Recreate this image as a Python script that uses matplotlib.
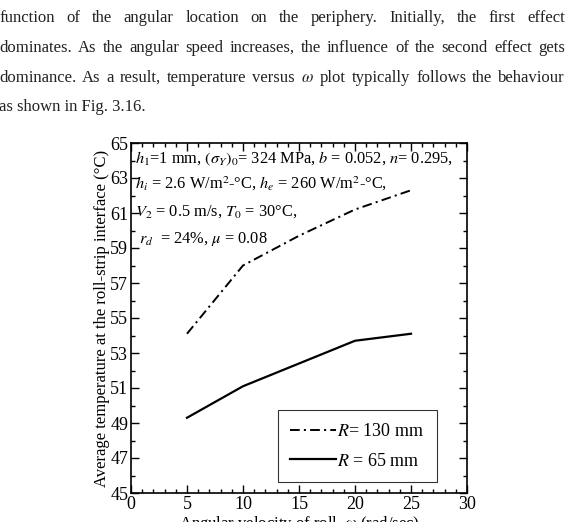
import numpy as np
import matplotlib
matplotlib.use("Agg")
import matplotlib.pyplot as plt

# data (Fig. 3.16)
omega = [5, 10, 15, 20, 25]
temp_r130 = [54.1, 58.0, 59.7, 61.2, 62.3]
temp_r65 = [49.3, 51.1, 52.4, 53.7, 54.1]
labels = ["$R$= 130 mm", "$R$ = 65 mm"]

x_ticks = [0, 5, 10, 15, 20, 25, 30]
y_ticks = [45, 47, 49, 51, 53, 55, 57, 59, 61, 63, 65]

paragraph = [
    "function of the angular location on the periphery. Initially, the first effect",
    "dominates. As the angular speed increases, the influence of the second effect gets",
    "dominance. As a result, temperature versus $\\omega$ plot typically follows the behaviour",
    "as shown in Fig. 3.16.",
]

params = [
    "$h_1$=1 mm, $(\\sigma_Y)_0$= 324 MPa, $b$ = 0.052, $n$= 0.295,",
    "$h_i$ = 2.6 W/m$^2$-\u00b0C, $h_e$ = 260 W/m$^2$-\u00b0C,",
    "$V_2$ = 0.5 m/s, $T_0$ = 30\u00b0C,",
    " $r_d$  = 24%, $\\mu$ = 0.08",
]

plt.rcParams["font.family"] = "Liberation Serif"
plt.rcParams["mathtext.fontset"] = "stix"
plt.rcParams["lines.scale_dashes"] = False

W, H = 576, 522
fig = plt.figure(figsize=(W / 100, H / 100), dpi=100)

# justified paragraph text above the chart
renderer = fig.canvas.get_renderer()
line_y = [22, 52, 82, 111]
for k, line in enumerate(paragraph):
    if k == len(paragraph) - 1:
        fig.text(-1 / W, 1 - line_y[k] / H, line, fontsize=12, color="#222222",
                 va="baseline", ha="left")
        continue
    words = line.split(" ")
    texts = [fig.text(0, 1 - line_y[k] / H, w, fontsize=12, color="#222222",
                      va="baseline", ha="left") for w in words]
    widths = [t.get_window_extent(renderer).width for t in texts]
    x0, x1 = -1, 565
    gap = (x1 - x0 - sum(widths)) / (len(words) - 1)
    x = x0
    for t, w in zip(texts, widths):
        t.set_x(x / W)
        x += w + gap

ax = fig.add_axes([131 / W, 1 - 493 / H, 336 / W, 350 / H])

ax.plot(omega, temp_r130, color="black", lw=1.4, linestyle=(0, (7, 3, 1.5, 3)),
        label=labels[0])
ax.plot(omega, temp_r65, color="black", lw=1.6, label=labels[1])

ax.set_xlim(0, 30)
ax.set_ylim(45, 65)
ax.set_xticks(x_ticks)
ax.set_yticks(y_ticks)
ax.set_xticks(np.arange(0, 31, 1), minor=True)
ax.set_yticks(np.arange(45, 66, 1), minor=True)
ax.tick_params(which="both", direction="in", top=True, right=True, labelsize=13, width=1)
ax.tick_params(which="major", length=6, pad=2)
ax.tick_params(which="minor", length=3)
for s in ax.spines.values():
    s.set_linewidth(1.2)

ax.set_xlabel("Angular velocity of roll, $\\omega$ (rad/sec)", fontsize=12, labelpad=1)
ax.set_ylabel("Average temperature at the roll-strip interface (\u00b0C)", fontsize=12,
              labelpad=0)

param_y = [163, 189, 216, 243]
for i, s in enumerate(params):
    ax.text(0.012, (493 - param_y[i]) / 350, s, transform=ax.transAxes, fontsize=11.8,
            va="baseline", ha="left")

leg = ax.legend(loc="lower right", bbox_to_anchor=(0.911, 0.031), fontsize=13,
                frameon=True, fancybox=False, borderaxespad=0, handlelength=2.5,
                handletextpad=0.1, borderpad=0.7, labelspacing=0.7)
leg.get_frame().set_edgecolor("black")
leg.get_frame().set_linewidth(0.8)

fig.savefig("out.png", dpi=100)
